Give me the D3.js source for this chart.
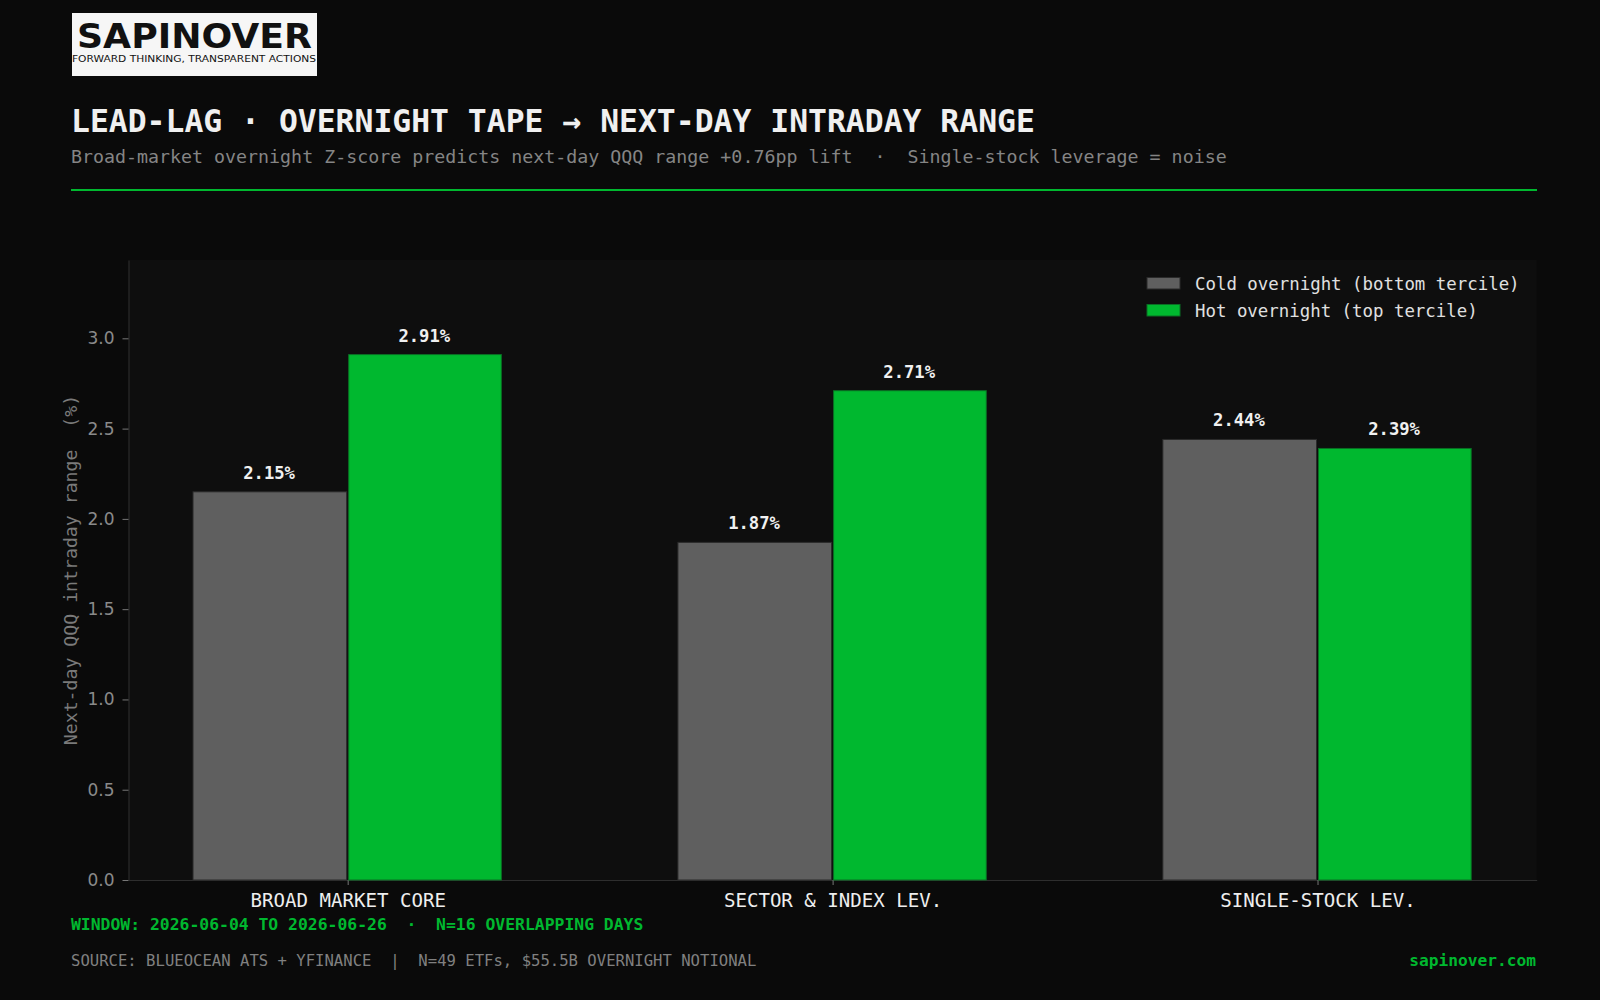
<!DOCTYPE html>
<html lang="en">
<head>
<meta charset="UTF-8">
<title>Lead-lag overnight tape</title>
<script src="https://cdn.jsdelivr.net/npm/d3@7/dist/d3.min.js"></script>
<style>
  html, body { margin: 0; padding: 0; background: #0a0a0a; }
  svg { display: block; }
</style>
</head>
<body>
<div id="chart"></div>
<script>
// data
const categories = ["BROAD MARKET CORE", "SECTOR & INDEX LEV.", "SINGLE-STOCK LEV."];
const coldValues = [2.15, 1.87, 2.44];
const hotValues = [2.91, 2.71, 2.39];
const seriesNames = ["Cold overnight (bottom tercile)", "Hot overnight (top tercile)"];
const yTicks = [0, 0.5, 1.0, 1.5, 2.0, 2.5, 3.0];

const width = 1600;
const height = 1000;
const marginLeft = 128.5;
const marginRight = 63.3;
const marginTop = 260;
const marginBottom = 120;
const barWidth = 0.32;

const mono = "'DejaVu Sans Mono', monospace";
const sans = "'DejaVu Sans', sans-serif";
const green = "#00b82f";
const grey = "#5f5f5f";

const svg = d3.select("#chart").append("svg")
    .attr("width", width)
    .attr("height", height);

svg.append("rect")
    .attr("width", width)
    .attr("height", height)
    .attr("fill", "#0a0a0a");

// logo
const logo = svg.append("g");
logo.append("rect")
    .attr("x", 72).attr("y", 13)
    .attr("width", 245).attr("height", 63)
    .attr("fill", "#f6f6f6");
logo.append("text")
    .attr("x", 77).attr("y", 47.5)
    .attr("textLength", 235)
    .attr("lengthAdjust", "spacingAndGlyphs")
    .attr("font-family", sans)
    .attr("font-weight", "bold")
    .attr("font-size", 34)
    .attr("fill", "#111")
    .text("SAPINOVER");
logo.append("text")
    .attr("x", 72).attr("y", 62)
    .attr("textLength", 244)
    .attr("lengthAdjust", "spacingAndGlyphs")
    .attr("font-family", sans)
    .attr("font-size", 9.5)
    .attr("fill", "#111")
    .text("FORWARD THINKING, TRANSPARENT ACTIONS");

// header
svg.append("text")
    .attr("x", 71).attr("y", 132)
    .attr("font-family", mono)
    .attr("font-weight", "bold")
    .attr("font-size", 31.4)
    .attr("fill", "#f0f0f0")
    .text("LEAD-LAG · OVERNIGHT TAPE → NEXT-DAY INTRADAY RANGE");

svg.append("text")
    .attr("x", 71).attr("y", 163)
    .attr("font-family", mono)
    .attr("font-size", 18.3)
    .attr("fill", "#858585")
    .attr("xml:space", "preserve")
    .style("white-space", "pre")
    .text("Broad-market overnight Z-score predicts next-day QQQ range +0.76pp lift  ·  Single-stock leverage = noise");

svg.append("line")
    .attr("x1", 71).attr("x2", 1537)
    .attr("y1", 190).attr("y2", 190)
    .attr("stroke", green)
    .attr("stroke-width", 2);

// plot area
svg.append("rect")
    .attr("x", marginLeft).attr("y", marginTop)
    .attr("width", width - marginLeft - marginRight)
    .attr("height", height - marginTop - marginBottom)
    .attr("fill", "#0e0e0e");

const x = d3.scaleLinear()
    .domain([-0.452, 2.452])
    .range([marginLeft, width - marginRight]);

const y = d3.scaleLinear()
    .domain([0, d3.max(hotValues.concat(coldValues)) * 1.18])
    .range([height - marginBottom, marginTop]);

const rows = categories.map((c, i) => ({ i, cold: coldValues[i], hot: hotValues[i] }));

// y axis
svg.append("g")
    .attr("transform", `translate(${marginLeft},0)`)
    .call(d3.axisLeft(y).tickValues(yTicks).tickFormat(d3.format(".1f"))
        .tickSize(6).tickSizeOuter(0).tickPadding(8))
    .call(g => g.select(".domain").attr("stroke", "#2e2e2e"))
    .call(g => g.selectAll(".tick line").attr("stroke", "#777"))
    .call(g => g.selectAll(".tick text")
        .attr("font-family", sans)
        .attr("font-size", 17)
        .attr("fill", "#8a8a8a"));

// x axis
svg.append("g")
    .attr("transform", `translate(0,${height - marginBottom})`)
    .call(d3.axisBottom(x).tickValues([0, 1, 2]).tickFormat(i => categories[i])
        .tickSize(5).tickSizeOuter(0).tickPadding(8.5))
    .call(g => g.select(".domain").attr("stroke", "#2e2e2e"))
    .call(g => g.selectAll(".tick line").attr("stroke", "#777"))
    .call(g => g.selectAll(".tick text")
        .attr("font-family", mono)
        .attr("font-size", 19.1)
        .attr("fill", "#eeeeee"));

svg.append("text")
    .attr("transform", `translate(76.5,${(marginTop + height - marginBottom) / 2}) rotate(-90)`)
    .attr("text-anchor", "middle")
    .attr("font-family", mono)
    .attr("font-size", 18.2)
    .attr("fill", "#7a7a7a")
    .attr("xml:space", "preserve")
    .style("white-space", "pre")
    .text("Next-day QQQ intraday range  (%)");

// bars
const bars = svg.append("g");
bars.selectAll("rect.cold")
    .data(rows)
    .join("rect")
    .attr("class", "cold")
    .attr("x", d => x(d.i - barWidth) + 0.5)
    .attr("y", d => y(d.cold))
    .attr("width", d => x(d.i) - x(d.i - barWidth) - 1.5)
    .attr("height", d => y(0) - y(d.cold))
    .attr("fill", grey)
    .attr("stroke", "#2a2a2a")
    .attr("stroke-width", 1);

bars.selectAll("rect.hot")
    .data(rows)
    .join("rect")
    .attr("class", "hot")
    .attr("x", d => x(d.i) + 1)
    .attr("y", d => y(d.hot))
    .attr("width", d => x(d.i + barWidth) - x(d.i) - 2.5)
    .attr("height", d => y(0) - y(d.hot))
    .attr("fill", green)
    .attr("stroke", "#0a6e24")
    .attr("stroke-width", 1);

// value labels
const labels = svg.append("g")
    .attr("font-family", mono)
    .attr("font-weight", "bold")
    .attr("font-size", 17.2)
    .attr("fill", "#f0f0f0")
    .attr("text-anchor", "middle");

labels.selectAll("text.cold")
    .data(rows)
    .join("text")
    .attr("class", "cold")
    .attr("x", d => x(d.i - barWidth / 2) - 1)
    .attr("y", d => y(d.cold) - 13)
    .text(d => d.cold.toFixed(2) + "%");

labels.selectAll("text.hot")
    .data(rows)
    .join("text")
    .attr("class", "hot")
    .attr("x", d => x(d.i + barWidth / 2) - 1)
    .attr("y", d => y(d.hot) - 13)
    .text(d => d.hot.toFixed(2) + "%");

// legend
const legend = svg.append("g")
    .selectAll("g")
    .data(seriesNames)
    .join("g")
    .attr("transform", (d, i) => `translate(1147,${277.5 + i * 27})`);

legend.append("rect")
    .attr("width", 33)
    .attr("height", 11.5)
    .attr("fill", (d, i) => i === 0 ? grey : green)
    .attr("stroke", (d, i) => i === 0 ? "#2a2a2a" : "#0a6e24");

legend.append("text")
    .attr("x", 48)
    .attr("y", 12)
    .attr("font-family", mono)
    .attr("font-size", 17.4)
    .attr("fill", "#e0e0e0")
    .text(d => d);

// footer
svg.append("text")
    .attr("x", 71).attr("y", 930)
    .attr("font-family", mono)
    .attr("font-weight", "bold")
    .attr("font-size", 16.4)
    .attr("fill", green)
    .attr("xml:space", "preserve")
    .style("white-space", "pre")
    .text("WINDOW: 2026-06-04 TO 2026-06-26  ·  N=16 OVERLAPPING DAYS");

svg.append("text")
    .attr("x", 71).attr("y", 965.5)
    .attr("font-family", mono)
    .attr("font-size", 15.6)
    .attr("fill", "#808080")
    .attr("xml:space", "preserve")
    .style("white-space", "pre")
    .text("SOURCE: BLUEOCEAN ATS + YFINANCE  |  N=49 ETFs, $55.5B OVERNIGHT NOTIONAL");

svg.append("text")
    .attr("x", 1536).attr("y", 965.5)
    .attr("text-anchor", "end")
    .attr("font-family", mono)
    .attr("font-weight", "bold")
    .attr("font-size", 16.2)
    .attr("fill", green)
    .text("sapinover.com");
</script>
</body>
</html>
